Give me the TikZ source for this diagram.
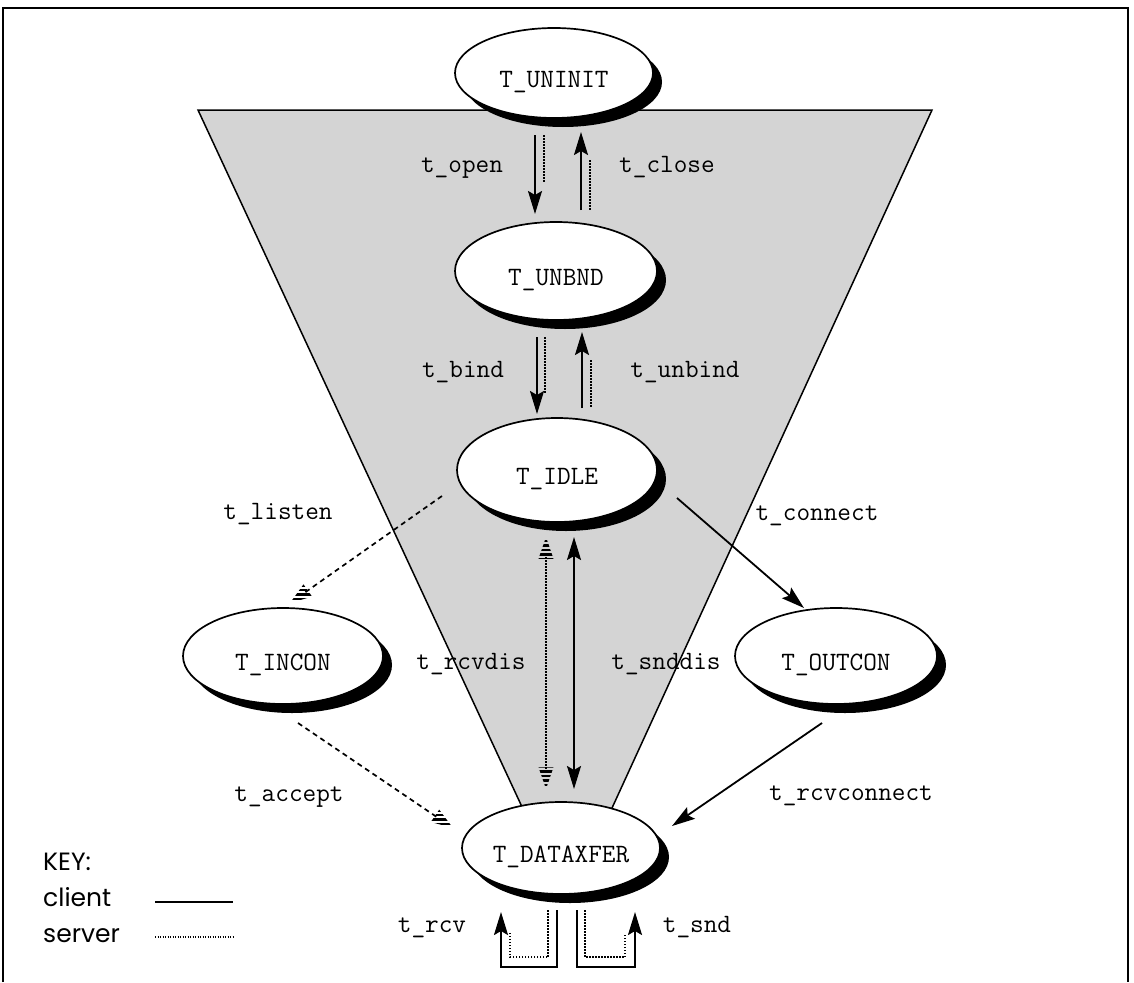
\documentclass[tikz,border=0pt]{standalone}
\usepackage{fontspec}
\newfontfamily\keyfont{Poppins}
\usetikzlibrary{arrows.meta,shapes.geometric,shadows,calc}

\newcommand{\codesize}{\ttfamily\fontsize{26.5}{28}\selectfont}

% striped head for server transitions: tip at #1, pointing away from #2,
% made of horizontal bars clipped to a narrow triangle
\newcommand{\srvhead}[2]{%
  \begin{scope}
    \clip (#1) -- ($(#1)!23pt!19:(#2)$) -- ($(#1)!23pt!-19:(#2)$) -- cycle;
    \foreach \d in {-22,-17.5,-13,-8.5,-4,4,8.5,13,17.5,22}
      \draw[line width=2.3pt] ($(#1)+(-30,\d)$) -- ++(60,0);
  \end{scope}}

\tikzset{
  state/.style={ellipse, draw, line width=1.7pt, fill=white, inner sep=0pt,
    font=\codesize, text height=28pt, text depth=0pt,
    general shadow={fill=black, shadow xshift=9pt, shadow yshift=-9pt}},
  lbl/.style={anchor=base, inner sep=0pt, font=\codesize},
  keytext/.style={anchor=base west, inner sep=0pt, font=\keyfont\fontsize{25}{28}\selectfont},
  tip/.tip={Stealth[length=23pt,width=14pt,inset=4pt]},
  client/.style={line width=2pt, -tip},
  clientboth/.style={line width=2pt, tip-tip},
  server/.style={line width=2pt, dash pattern=on 1.5pt off 1.5pt},
  dashsrv/.style={line width=1.7pt, dash pattern=on 5pt off 4pt},
  funnel/.style={line width=1.5pt, fill=black!17},
  frame/.style={line width=2pt}
}

\begin{document}
\begin{tikzpicture}[x=1pt, y=-1pt]
\useasboundingbox (0,0) rectangle (1134,982);

% outer frame (open at the bottom)
\draw[frame] (3,982) -- (3,8) -- (1128,8) -- (1128,982);

% shaded funnel behind the central states
\draw[funnel] (198,110) -- (932,110) -- (579,880) -- (556,880) -- cycle;

% states
\node[state, minimum width=198pt, minimum height=90pt]  (uninit)   at (554,73)  {T\_UNINIT};
\node[state, minimum width=202pt, minimum height=98pt]  (unbnd)    at (556,271) {T\_UNBND};
\node[state, minimum width=200pt, minimum height=104pt] (idle)     at (557,470) {T\_IDLE};
\node[state, minimum width=200pt, minimum height=96pt]  (incon)    at (283,656) {T\_INCON};
\node[state, minimum width=202pt, minimum height=96pt]  (outcon)   at (836,656) {T\_OUTCON};
\node[state, minimum width=198pt, minimum height=92pt]  (dataxfer) at (561,848) {T\_DATAXFER};

% connector end points
\coordinate (openA)  at (535,135); \coordinate (openB)  at (535,214);
\coordinate (openS)  at (544,135); \coordinate (openT)  at (544,183);
\coordinate (closeA) at (581,210); \coordinate (closeB) at (581,132);
\coordinate (closeS) at (590,160); \coordinate (closeT) at (590,210);
\coordinate (bindA)  at (537,337); \coordinate (bindB)  at (537,414);
\coordinate (bindS)  at (545,337); \coordinate (bindT)  at (545,393);
\coordinate (ubndA)  at (582,408); \coordinate (ubndB)  at (582,332);
\coordinate (ubndS)  at (591,360); \coordinate (ubndT)  at (591,408);
\coordinate (disA)   at (574,537); \coordinate (disB)   at (574,789);
\coordinate (disS)   at (546,537); \coordinate (disT)   at (546,789);
\coordinate (lstA)   at (442,496); \coordinate (lstB)   at (290,603);
\coordinate (accA)   at (298,723); \coordinate (accB)   at (453,828);
\coordinate (conA)   at (677,498); \coordinate (conB)   at (804,608);
\coordinate (rconA)  at (822,723); \coordinate (rconB)  at (672,826);
\coordinate (rcvA)   at (557,910); \coordinate (rcvB)   at (501,912);
\coordinate (rcvS)   at (548,910); \coordinate (rcvT)   at (510,933);
\coordinate (sndA)   at (577,910); \coordinate (sndB)   at (635,912);
\coordinate (sndS)   at (585,910); \coordinate (sndT)   at (625,933);

% client / server transitions between the central states
\draw[client] (openA) -- (openB);
\draw[server] (openS) -- (openT);
\draw[client] (closeA) -- (closeB);
\draw[server] (closeS) -- (closeT);
\draw[client] (bindA) -- (bindB);
\draw[server] (bindS) -- (bindT);
\draw[client] (ubndA) -- (ubndB);
\draw[server] (ubndS) -- (ubndT);
\draw[clientboth] (disA) -- (disB);
\draw[server, shorten <=20pt, shorten >=20pt] (disS) -- (disT);
\srvhead{disS}{disT}
\srvhead{disT}{disS}

% passive open path (server)
\draw[dashsrv, shorten >=18pt] (lstA) -- (lstB);
\srvhead{lstB}{lstA}
\draw[dashsrv, shorten >=18pt] (accA) -- (accB);
\srvhead{accB}{accA}

% active open path (client)
\draw[client, line width=1.8pt] (conA) -- (conB);
\draw[client, line width=1.8pt] (rconA) -- (rconB);

% data transfer loops
\draw[client] (rcvA) |- (501,967) -- (rcvB);
\draw[server] (rcvS) |- (510,957) -- (rcvT);
\draw[client] (sndA) |- (635,967) -- (sndB);
\draw[server] (sndS) |- (625,957) -- (sndT);

% transition labels
\node[lbl] (lopen)    at (462,172) {t\_open};
\node[lbl] (lclose)   at (667,172) {t\_close};
\node[lbl] (lbind)    at (463,377) {t\_bind};
\node[lbl] (lunbind)  at (685,377) {t\_unbind};
\node[lbl] (llisten)  at (278,519) {t\_listen};
\node[lbl] (lconnect) at (817,520) {t\_connect};
\node[lbl] (lrcvdis)  at (471,669) {t\_rcvdis};
\node[lbl] (lsnddis)  at (666,669) {t\_snddis};
\node[lbl] (laccept)  at (289,801) {t\_accept};
\node[lbl] (lrcvconn) at (851,800) {t\_rcvconnect};
\node[lbl] (lrcv)     at (432,932) {t\_rcv};
\node[lbl] (lsnd)     at (697,932) {t\_snd};

% key
\node[keytext] (keyhead)   at (43,870) {KEY:};
\node[keytext] (keyclient) at (43,906) {client};
\node[keytext] (keyserver) at (43,942) {server};
\coordinate (kc0) at (155,902); \coordinate (kc1) at (233,902);
\coordinate (ks0) at (155,937); \coordinate (ks1) at (233,937);
\draw[line width=1.5pt] (kc0) -- (kc1);
\draw[line width=1.5pt, dash pattern=on 1.2pt off 1.3pt] (ks0) -- (ks1);
\end{tikzpicture}
\end{document}
